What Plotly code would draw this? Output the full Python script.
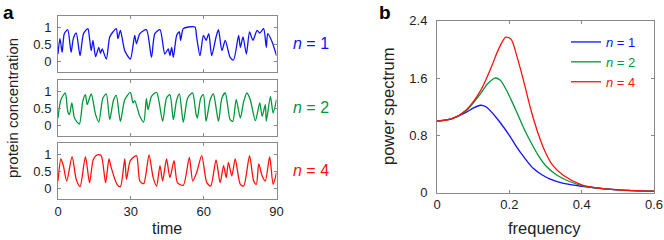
import plotly.graph_objects as go

# ---------------- data: panel a (time series) ----------------
t_n1 = [0, 0.8, 1.7, 2.6, 4.0, 5.4, 6.3, 7.5, 9.1, 10.5, 12.3, 13.0, 13.7, 14.4, 15.5, 16.8, 17.5, 18.2,
        19.9, 21.3, 22.6, 24.0, 24.7, 25.7, 27.5, 29.8, 31.6, 32.3, 33.7, 36.4, 38.5, 39.9, 42.0, 44.0,
        45.4, 46.1, 46.8, 47.5, 48.9, 50.0, 50.5, 51.6, 53.7, 56.4, 57.1, 58.5, 59.9, 61.0, 62.1, 63.3,
        65.1, 66.1, 67.5, 68.9, 70.9, 72.3, 74.4, 75.1, 76.2, 77.6, 78.9, 80.3, 82.0, 83.1, 84.7, 85.8,
        86.4, 88.2, 90.0]
c_n1 = [0.21, 0.67, 0.26, 0.82, 0.94, 0.26, 0.67, 0.84, 0.16, 0.82, 0.97, 0.67, 0.31, 0.62, 0.13, 0.41, 0.23, 0.36,
        0.06, 0.72, 0.87, 0.97, 0.67, 0.92, 0.31, 0.06, 0.77, 0.52, 0.82, 0.94, 0.11, 0.82, 0.94, 0.21,
        0.36, 0.16, 0.41, 0.11, 0.77, 0.87, 0.62, 0.97, 1.02, 1.02, 0.72, 0.16, 0.77, 0.62, 0.82, 0.16,
        0.72, 0.94, 0.31, 0.62, 0.11, 0.03, 0.77, 0.41, 0.72, 0.21, 0.87, 0.62, 0.92, 0.84, 0.97, 0.41,
        0.82, 0.57, 0.16]

t_n2 = [0, 1.2, 3.0, 4.0, 4.7, 5.7, 6.8, 8.8, 10.2, 11.3, 12.0, 13.7, 15.5, 16.8, 18.5, 19.9, 21.3, 22.9,
        24.0, 25.7, 27.5, 29.8, 30.9, 31.6, 33.7, 35.3, 36.4, 37.1, 38.5, 40.6, 43.1, 44.7, 46.1, 47.5,
        48.9, 50.0, 51.6, 53.3, 54.7, 55.5, 56.9, 57.4, 58.8, 59.9, 61.0, 62.7, 64.0, 66.1, 67.5, 68.9,
        70.9, 72.0, 73.4, 75.1, 76.5, 77.8, 79.2, 81.3, 83.1, 84.1, 85.4, 85.8, 87.5, 88.6, 90.0]
c_n2 = [0.21, 0.76, 0.96, 0.41, 0.31, 0.66, 0.21, 0.03, 0.71, 0.91, 0.61, 0.93, 0.31, 0.09, 0.81, 0.93, 0.16, 0.76,
        0.89, 0.11, 0.76, 0.98, 0.66, 0.73, 0.26, 0.09, 0.79, 0.46, 0.86, 0.98, 0.11, 0.81, 0.91, 0.16,
        0.76, 0.93, 0.08, 0.79, 0.93, 0.96, 0.31, 0.21, 0.81, 0.91, 0.11, 0.76, 0.93, 0.11, 0.81, 0.96,
        0.16, 0.11, 0.76, 0.21, 0.71, 0.96, 0.76, 0.13, 0.66, 0.26, 0.61, 0.11, 0.86, 0.36, 0.76]

t_n4 = [0, 1.2, 2.2, 3.6, 5.8, 7.5, 9.1, 11.3, 13.0, 14.6, 16.4, 17.8, 19.6, 21.0, 21.9, 24.3, 25.7, 27.5,
        28.2, 29.8, 32.3, 33.7, 35.3, 37.5, 39.2, 40.6, 42.0, 43.1, 44.7, 46.1, 47.8, 49.2, 51.6, 54.1,
        55.5, 57.1, 59.2, 61.3, 62.9, 65.1, 66.8, 68.2, 69.3, 70.2, 71.6, 73.0, 75.1, 76.5, 78.9, 80.6,
        81.7, 82.7, 84.1, 85.4, 87.2, 88.6, 90.0]
c_n4 = [0.21, 0.87, 0.67, 0.21, 0.94, 0.26, 0.04, 0.94, 0.16, 0.87, 1.0, 0.97, 0.16, 0.87, 0.62, 0.11, 0.04, 0.87,
        0.26, 0.82, 0.97, 0.21, 0.13, 0.99, 0.31, 0.06, 0.67, 0.21, 0.87, 0.31, 0.82, 0.16, 0.08, 0.92,
        0.21, 0.46, 0.97, 0.16, 0.06, 0.84, 0.16, 0.67, 0.31, 0.77, 0.36, 0.87, 0.11, 0.06, 0.97, 0.21,
        0.11, 0.72, 0.36, 0.21, 0.94, 0.11, 0.46]

# ---------------- data: panel b (power spectrum) ----------------
f_n1 = [0, 0.04, 0.08, 0.10, 0.12, 0.135, 0.15, 0.173, 0.20, 0.22, 0.24, 0.266, 0.29, 0.313, 0.35, 0.40, 0.50, 0.60]
p_n1 = [1.0, 1.03, 1.12, 1.18, 1.22, 1.20, 1.13, 0.99, 0.80, 0.64, 0.50, 0.34, 0.25, 0.19, 0.13, 0.09, 0.04, 0.02]

f_n2 = [0, 0.04, 0.08, 0.12, 0.14, 0.16, 0.175, 0.19, 0.20, 0.22, 0.24, 0.26, 0.28, 0.30, 0.33, 0.36, 0.40, 0.50, 0.60]
p_n2 = [1.0, 1.03, 1.14, 1.38, 1.52, 1.60, 1.57, 1.45, 1.35, 1.13, 0.90, 0.70, 0.52, 0.38, 0.25, 0.17, 0.10, 0.04, 0.02]

f_n4 = [0, 0.04, 0.08, 0.12, 0.15, 0.17, 0.19, 0.205, 0.22, 0.24, 0.26, 0.28, 0.30, 0.32, 0.35, 0.40, 0.45, 0.50, 0.60]
p_n4 = [1.0, 1.03, 1.15, 1.42, 1.75, 2.00, 2.17, 2.14, 1.92, 1.55, 1.15, 0.82, 0.56, 0.38, 0.24, 0.11, 0.06, 0.04, 0.02]

labels = ["<i>n</i> = 1", "<i>n</i> = 2", "<i>n</i> = 4"]
colors = ["#1010ff", "#00983a", "#ff1010"]

ts = [(t_n1, c_n1), (t_n2, c_n2), (t_n4, c_n4)]
ps = [(f_n1, p_n1), (f_n2, p_n2), (f_n4, p_n4)]

W, H = 664, 240
FONT = "Liberation Sans, Arial, sans-serif"
AXC = "#8a8a8a"
TXT = "#222222"

fig = go.Figure()

# panel a traces
for i, (t, c) in enumerate(ts):
    ax = "" if i == 0 else str(i + 1)
    fig.add_trace(go.Scatter(x=t, y=c, mode="lines", xaxis="x" + ax, yaxis="y" + ax,
                             line=dict(color=colors[i], width=1.3, shape="spline", smoothing=0.7),
                             showlegend=False, hoverinfo="skip"))

# panel b traces
for i, (f, p) in enumerate(ps):
    fig.add_trace(go.Scatter(x=f, y=p, mode="lines", xaxis="x4", yaxis="y4",
                             line=dict(color=colors[i], width=1.3, shape="spline", smoothing=0.8),
                             name="<span style='color:%s'>%s</span>" % (colors[i], labels[i]),
                             showlegend=True, hoverinfo="skip"))

def px_x(a, b):
    return [a / W, b / W]

def px_y(top, bottom):
    return [1 - bottom / H, 1 - top / H]

common = dict(showline=True, linecolor=AXC, linewidth=1, mirror="ticks", ticks="inside",
              ticklen=3, tickcolor=AXC, showgrid=False, zeroline=False, automargin=False,
              tickfont=dict(family=FONT, size=13, color=TXT))

a_rows = [(16, 72), (80, 136), (143, 199)]
for i, (top, bot) in enumerate(a_rows):
    ax = "" if i == 0 else str(i + 1)
    fig.layout["xaxis" + ax] = dict(domain=px_x(58, 276.5), anchor="y" + ax, range=[0, 90],
                                    tickvals=[0, 30, 60, 90], showticklabels=(i == 2), **common)
    fig.layout["yaxis" + ax] = dict(domain=px_y(top, bot), anchor="x" + ax, range=[-0.33, 1.35],
                                    tickvals=[0, 0.5, 1], ticktext=["0", "0.5", "1"],
                                    ticklabelstandoff=3, **common)

fig.layout["xaxis4"] = dict(domain=px_x(437, 654), anchor="y4", range=[0, 0.6],
                            tickvals=[0, 0.2, 0.4, 0.6], ticktext=["0", "0.2", "0.4", "0.6"], **common)
fig.layout["yaxis4"] = dict(domain=px_y(20.7, 192.7), anchor="x4", range=[0, 2.4],
                            tickvals=[0, 0.8, 1.6, 2.4], ticktext=["0", "0.8", "1.6", "2.4"],
                            ticklabelstandoff=6, **common)

ann = []
def A(text, x, y, size, color=TXT, angle=0, bold=False):
    if bold:
        text = "<b>%s</b>" % text
    ann.append(dict(text=text, x=x / W, y=1 - y / H, xref="paper", yref="paper",
                    showarrow=False, textangle=angle, xanchor="center", yanchor="middle",
                    font=dict(family=FONT, size=size, color=color)))

A("a", 8, 12, 19, color="#000", bold=True)
A("b", 385, 12, 19, color="#000", bold=True)
A("protein concentration", 13, 108, 15, angle=-90)
A("time", 167, 228, 16)
A("power spectrum", 388, 107, 16.5, angle=-90)
A("frequency", 544, 228, 16.5)
for i, yc in enumerate([43, 107, 170]):
    A(labels[i], 311, yc, 16, color=colors[i])

fig.update_layout(
    width=W, height=H, margin=dict(l=0, r=0, t=0, b=0, autoexpand=False),
    paper_bgcolor="white", plot_bgcolor="white",
    annotations=ann,
    legend=dict(x=566 / W, y=1 - 27 / H, xanchor="left", yanchor="top",
                bgcolor="rgba(0,0,0,0)", font=dict(family=FONT, size=13),
                itemwidth=30, tracegroupgap=0),
)

fig.write_html("out.html", config={"displayModeBar": False},
               post_script="document.body.style.margin='0';document.body.style.padding='0';")
